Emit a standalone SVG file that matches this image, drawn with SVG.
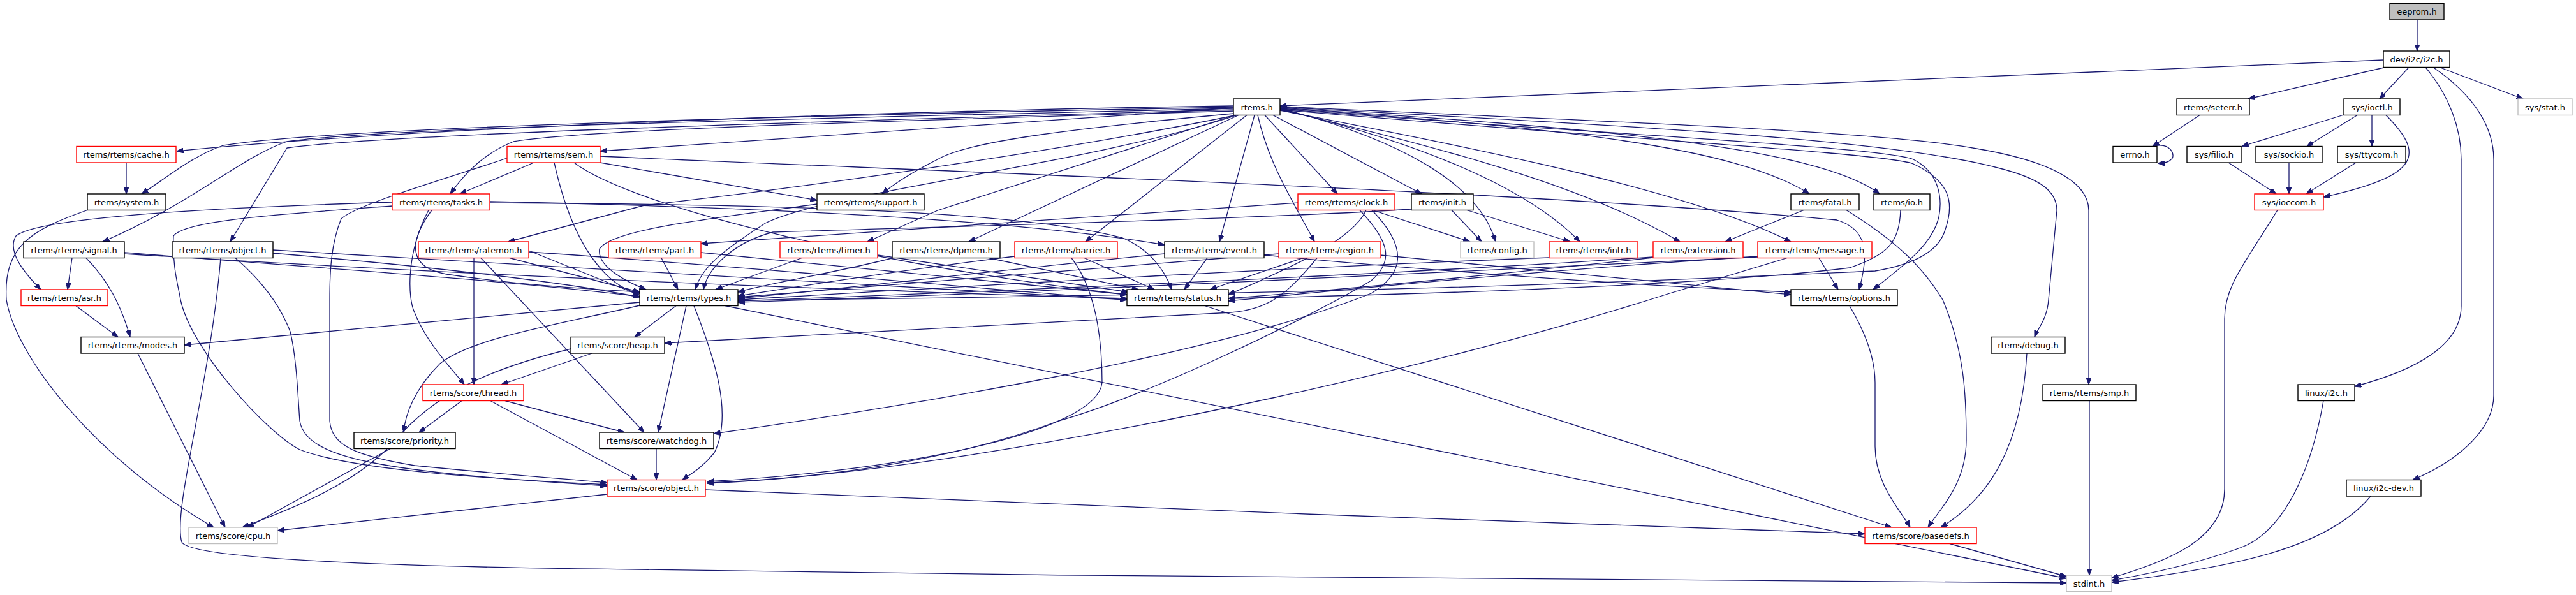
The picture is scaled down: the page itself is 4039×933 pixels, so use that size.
<svg xmlns="http://www.w3.org/2000/svg" width="4039" height="933" viewBox="0 0 4039 933">
<style>
.n rect{fill:#fff;stroke:#000;stroke-width:1.4}
.n.r rect{stroke:#ff0000}
.n.g rect{stroke:#bfbfbf}
.n.f rect{fill:#bfbfbf}
.n text{font-family:"DejaVu Sans",sans-serif;font-size:13px;text-anchor:middle;fill:#000}
#edges path{fill:none;stroke:#191970;stroke-width:1.3;marker-end:url(#ah)}
</style>
<defs>
<marker id="ah" markerUnits="userSpaceOnUse" markerWidth="11" markerHeight="8" refX="10.5" refY="4" orient="auto">
<path d="M0,0 L10.5,4 L0,8 z" fill="#191970" stroke="#191970" stroke-width="1"/>
</marker>
</defs>
<rect width="4039" height="933" fill="#fff"/>
<g id="edges">
<path d="M3790,31 L3790,80"/>
<path d="M3737,94 L2007,166"/>
<path d="M3740,105.5 L3525,155"/>
<path d="M3777,105.5 L3731,155"/>
<path d="M3825,105.5 L3956,155"/>
<path d="M3803,105.5 C3840,150 3859,200 3859,250 L3859,480 C3859,540 3790,580 3692,606"/>
<path d="M3815,105.5 C3880,150 3910,200 3910,250 L3910,620 C3910,670 3860,720 3783,752.5"/>
<path d="M3449,180.5 L3375,229.5"/>
<path d="M3375,229.5 C3405,222 3412,245 3404,250 C3400,255 3393,256 3383,256"/>
<path d="M3675,180 L3515,229.5"/>
<path d="M3696,180.5 L3617,229.5"/>
<path d="M3719,180.5 L3719,229.5"/>
<path d="M3741,180.5 C3800,240 3800,275 3643,309"/>
<path d="M3494,255 L3569,304"/>
<path d="M3589,255 L3589,304"/>
<path d="M3694,255 L3616,304"/>
<path d="M3571,329.5 C3515,420 3488,450 3488,500 L3488,767 C3488,845 3400,880 3311,906"/>
<path d="M3643,628.5 C3620,760 3570,840 3510,860 C3440,885 3370,900 3311,910"/>
<path d="M3717,778 C3650,860 3500,890 3311,913"/>
<path d="M3276,628.5 L3276,902"/>
<path d="M3057,852.5 L3240,904"/>
<path d="M1137,479.5 L3240,907"/>
<path d="M346,404.5 C330,600 270,800 285,850 C300,880 700,890 1000,893 C1800,905 2800,914 3240,914"/>
<path d="M1934,166 C1500,172 700,195 277,237"/>
<path d="M1934,168 C1300,180 520,200 350,228 C300,245 260,280 222,304"/>
<path d="M1934,170 C1300,185 600,200 450,222 C380,245 300,320 161,379"/>
<path d="M1934,172 C1300,190 600,210 450,232 L361,379"/>
<path d="M1934,169 L941,237"/>
<path d="M1934,174 C1300,192 900,205 805,222 C760,240 730,270 706,304"/>
<path d="M1938,180.5 C1700,230 1300,290 1010,322 L797,379"/>
<path d="M1940,180.5 C1700,260 1300,300 1200,350 C1130,395 1100,420 1090,454"/>
<path d="M1934,178 C1700,200 1520,220 1470,250 C1430,270 1400,290 1383,304"/>
<path d="M2035,318 L1099,382"/>
<path d="M1936,180.5 C1750,240 1560,300 1470,330 L1360,379"/>
<path d="M1942,180.5 L1519,379"/>
<path d="M1955,180.5 L1702,379"/>
<path d="M1967,180.5 L1912,379"/>
<path d="M1972,180.5 C1990,260 2030,320 2061,379"/>
<path d="M1983,180.5 L2097,304"/>
<path d="M1996,180.5 L2229,304"/>
<path d="M2007,170 C2200,220 2320,290 2345,379"/>
<path d="M2007,171 C2250,230 2400,300 2477,379"/>
<path d="M2007,172 C2300,240 2500,300 2634,379"/>
<path d="M2007,173 C2350,240 2650,300 2808,379"/>
<path d="M2007,170 C2450,200 2720,230 2837,304"/>
<path d="M2007,169 C2500,200 2850,230 2947,304"/>
<path d="M2007,167 C2500,190 2950,205 3099,233 C3200,250 3275,280 3275,330 L3275,603"/>
<path d="M2007,168 C2500,195 2950,215 3132,263 C3200,280 3225,300 3225,330 L3212,470 C3210,500 3195,515 3190,528.5"/>
<path d="M2007,171 C2500,210 2950,230 3000,250 C3040,270 3046,310 3040,340 C3030,385 2980,420 2937,454"/>
<path d="M2007,172 C2500,215 2960,240 3000,257 C3060,285 3064,320 3050,360 C3040,395 3000,415 2940,425 C2600,440 2200,460 1157,471"/>
<path d="M941,245 C1500,270 2400,300 2880,345 C2930,360 2930,400 2915,454"/>
<path d="M941,255 L1281,314"/>
<path d="M837,255 L721,304"/>
<path d="M795,248 C700,280 560,320 535,343 C520,380 517,420 517,470 L517,660 C520,700 560,715 650,730 C800,745 900,752 952,757"/>
<path d="M869,255 C890,350 920,400 950,430 C970,450 990,458 1003,460"/>
<path d="M900,255 C1000,330 1400,420 1767,462"/>
<path d="M615,317 C350,325 60,340 25,370 C10,395 40,430 64,454"/>
<path d="M615,323 C450,335 290,345 272,370 C270,420 280,450 283,470 C300,550 420,680 470,705 C560,740 800,752 952,760"/>
<path d="M672,329.5 C635,400 640,470 650,490 C670,540 710,580 728,603"/>
<path d="M677,329.5 C640,380 640,420 700,430 C800,445 900,452 1005,458"/>
<path d="M768,318 C1200,320 1600,330 1760,373 C1800,390 1825,420 1837,454"/>
<path d="M768,316 C1200,325 1600,345 1826,384"/>
<path d="M829,393 L1003,463"/>
<path d="M829,395 C1200,420 1500,450 1767,470"/>
<path d="M743,404.5 L743,603"/>
<path d="M754,404.5 L1010,678"/>
<path d="M799,404.5 L1003,458"/>
<path d="M195,396 C500,420 800,440 1003,465"/>
<path d="M195,398 C700,430 1300,455 1767,468"/>
<path d="M113,404.5 L106,454"/>
<path d="M135,404.5 C170,440 190,480 204,528"/>
<path d="M428,397 C700,420 900,445 1003,466"/>
<path d="M428,392 C900,420 1400,450 1767,470"/>
<path d="M369,404.5 C410,440 440,480 455,520 C465,560 467,620 470,660 C480,720 600,740 952,762"/>
<path d="M198,255 L198,304"/>
<path d="M137,329.5 C50,360 5,385 10,470 C25,560 150,720 335,827"/>
<path d="M119,479.5 L185,528.5"/>
<path d="M216,554 L353,827"/>
<path d="M1003,474 L289,541"/>
<path d="M1060,479.5 L995,528.5"/>
<path d="M1076,479.5 L1032,678"/>
<path d="M1088,479.5 C1120,560 1150,650 1120,710 C1100,735 1080,745 1070,752.5"/>
<path d="M1003,479 C870,510 740,530 690,570 C650,610 635,650 633,678"/>
<path d="M928,554 L786,603"/>
<path d="M895,547 C760,580 680,620 620,690 C560,760 450,800 380,827"/>
<path d="M724,628.5 L657,678"/>
<path d="M792,628.5 L979,678"/>
<path d="M769,628.5 L999,752.5"/>
<path d="M612,703.5 L388,827"/>
<path d="M1029,703.5 L1029,752.5"/>
<path d="M952,775 L435,832"/>
<path d="M1106,768 C1600,790 2400,820 2924,837"/>
<path d="M1889,479.5 L2966,827"/>
<path d="M2900,479.5 C2930,530 2940,570 2940,600 L2940,700 C2940,760 2980,800 2995,827"/>
<path d="M2895,329.5 C2960,370 3010,410 3046,470 C3080,550 3083,620 3083,690 C3083,760 3040,800 3023,827"/>
<path d="M3178,554 C3170,700 3120,780 3043,827"/>
<path d="M2828,329.5 L2705,379"/>
<path d="M2980,329.5 C2978,380 2960,400 2900,420 C2700,445 2300,460 1926,468"/>
<path d="M2276,329.5 L2323,379"/>
<path d="M2300,329.5 L2462,379"/>
<path d="M2213,328 C2000,342 1500,355 1212,364 C1150,380 1110,420 1103,454"/>
<path d="M2152,329.5 L2305,379"/>
<path d="M2132,329.5 C2180,380 2185,410 2150,440 C2050,500 1800,620 1660,660 C1500,720 1300,750 1109,757"/>
<path d="M2151,329.5 C2210,390 2200,430 2150,460 C1900,560 1400,640 1119,680"/>
<path d="M2142,329.5 C2120,380 2000,430 1926,462"/>
<path d="M2043,404.5 L1897,454"/>
<path d="M2065,404.5 C2020,460 1990,485 1930,490 C1600,510 1300,525 1042,538"/>
<path d="M2164,400 L2808,462"/>
<path d="M2005,398 C1700,420 1400,445 1157,466"/>
<path d="M1893,404.5 L1857,454"/>
<path d="M1826,398 C1600,420 1350,450 1157,468"/>
<path d="M1982,400 C2200,420 2500,445 2808,458"/>
<path d="M1591,402 C1400,425 1250,450 1157,464"/>
<path d="M1700,404.5 L1810,454"/>
<path d="M1680,404.5 C1715,450 1728,520 1728,600 C1720,680 1400,740 1109,755"/>
<path d="M1400,404.5 C1300,430 1200,445 1157,458"/>
<path d="M1550,404.5 L1785,454"/>
<path d="M1257,404.5 L1122,454"/>
<path d="M1376,400 L1770,458"/>
<path d="M1037,404.5 L1063,454"/>
<path d="M1099,396 L1767,462"/>
<path d="M1281,320 C1100,345 960,360 940,390 C935,420 990,445 1013,454"/>
<path d="M2429,404 C2000,420 1500,450 1157,470"/>
<path d="M2592,403 C2200,430 1600,455 1157,472"/>
<path d="M2592,404 C2400,425 2100,455 1926,468"/>
<path d="M2852,404.5 L2882,454"/>
<path d="M2756,402 C2400,425 2100,455 1926,472"/>
<path d="M2756,403 C2200,430 1600,460 1157,474"/>
<path d="M2802,404.5 L2618,460 C2400,530 2150,590 2000,623 C1600,710 1300,750 1109,758"/>
</g>
<g id="eeprom" class="n f"><rect x="3747" y="5.5" width="85" height="25.5"/><text x="3789.5" y="23">eeprom.h</text></g>
<g id="i2c" class="n"><rect x="3737" y="80" width="104" height="25.5"/><text x="3789" y="97.5">dev/i2c/i2c.h</text></g>
<g id="rtems" class="n"><rect x="1934" y="155" width="73" height="25.5"/><text x="1970.5" y="172.5">rtems.h</text></g>
<g id="seterr" class="n"><rect x="3413" y="155" width="114" height="25.5"/><text x="3470" y="172.5">rtems/seterr.h</text></g>
<g id="ioctl" class="n"><rect x="3675" y="155" width="88" height="25.5"/><text x="3719" y="172.5">sys/ioctl.h</text></g>
<g id="stat" class="n g"><rect x="3948" y="155" width="85" height="25.5"/><text x="3990.5" y="172.5">sys/stat.h</text></g>
<g id="cache" class="n r"><rect x="120" y="229.5" width="156" height="25.5"/><text x="198" y="247">rtems/rtems/cache.h</text></g>
<g id="sem" class="n r"><rect x="795" y="229.5" width="146" height="25.5"/><text x="868" y="247">rtems/rtems/sem.h</text></g>
<g id="errno" class="n"><rect x="3313" y="229.5" width="69" height="25.5"/><text x="3347.5" y="247">errno.h</text></g>
<g id="filio" class="n"><rect x="3429" y="229.5" width="85" height="25.5"/><text x="3471.5" y="247">sys/filio.h</text></g>
<g id="sockio" class="n"><rect x="3537" y="229.5" width="104" height="25.5"/><text x="3589" y="247">sys/sockio.h</text></g>
<g id="ttycom" class="n"><rect x="3665" y="229.5" width="107" height="25.5"/><text x="3718.5" y="247">sys/ttycom.h</text></g>
<g id="system" class="n"><rect x="137" y="304" width="123" height="25.5"/><text x="198.5" y="321.5">rtems/system.h</text></g>
<g id="tasks" class="n r"><rect x="615" y="304" width="153" height="25.5"/><text x="691.5" y="321.5">rtems/rtems/tasks.h</text></g>
<g id="support" class="n"><rect x="1281" y="304" width="168" height="25.5"/><text x="1365" y="321.5">rtems/rtems/support.h</text></g>
<g id="clock" class="n r"><rect x="2035" y="304" width="152" height="25.5"/><text x="2111" y="321.5">rtems/rtems/clock.h</text></g>
<g id="init" class="n"><rect x="2213" y="304" width="97" height="25.5"/><text x="2261.5" y="321.5">rtems/init.h</text></g>
<g id="fatal" class="n"><rect x="2808" y="304" width="107" height="25.5"/><text x="2861.5" y="321.5">rtems/fatal.h</text></g>
<g id="io" class="n"><rect x="2938" y="304" width="88" height="25.5"/><text x="2982" y="321.5">rtems/io.h</text></g>
<g id="ioccom" class="n r"><rect x="3535" y="304" width="108" height="25.5"/><text x="3589" y="321.5">sys/ioccom.h</text></g>
<g id="signal" class="n"><rect x="37" y="379" width="158" height="25.5"/><text x="116" y="396.5">rtems/rtems/signal.h</text></g>
<g id="object" class="n"><rect x="270" y="379" width="158" height="25.5"/><text x="349" y="396.5">rtems/rtems/object.h</text></g>
<g id="ratemon" class="n r"><rect x="656" y="379" width="173" height="25.5"/><text x="742.5" y="396.5">rtems/rtems/ratemon.h</text></g>
<g id="part" class="n r"><rect x="954" y="379" width="145" height="25.5"/><text x="1026.5" y="396.5">rtems/rtems/part.h</text></g>
<g id="timer" class="n r"><rect x="1223" y="379" width="153" height="25.5"/><text x="1299.5" y="396.5">rtems/rtems/timer.h</text></g>
<g id="dpmem" class="n"><rect x="1399" y="379" width="169" height="25.5"/><text x="1483.5" y="396.5">rtems/rtems/dpmem.h</text></g>
<g id="barrier" class="n r"><rect x="1591" y="379" width="161" height="25.5"/><text x="1671.5" y="396.5">rtems/rtems/barrier.h</text></g>
<g id="event" class="n"><rect x="1826" y="379" width="156" height="25.5"/><text x="1904" y="396.5">rtems/rtems/event.h</text></g>
<g id="region" class="n r"><rect x="2005" y="379" width="160" height="25.5"/><text x="2085" y="396.5">rtems/rtems/region.h</text></g>
<g id="config" class="n g"><rect x="2290" y="379" width="115" height="25.5"/><text x="2347.5" y="396.5">rtems/config.h</text></g>
<g id="intr" class="n r"><rect x="2429" y="379" width="139" height="25.5"/><text x="2498.5" y="396.5">rtems/rtems/intr.h</text></g>
<g id="extension" class="n r"><rect x="2592" y="379" width="141" height="25.5"/><text x="2662.5" y="396.5">rtems/extension.h</text></g>
<g id="message" class="n r"><rect x="2756" y="379" width="179" height="25.5"/><text x="2845.5" y="396.5">rtems/rtems/message.h</text></g>
<g id="asr" class="n r"><rect x="33" y="454" width="136" height="25.5"/><text x="101" y="471.5">rtems/rtems/asr.h</text></g>
<g id="types" class="n"><rect x="1003" y="454" width="154" height="25.5"/><text x="1080" y="471.5">rtems/rtems/types.h</text></g>
<g id="status" class="n"><rect x="1767" y="454" width="159" height="25.5"/><text x="1846.5" y="471.5">rtems/rtems/status.h</text></g>
<g id="options" class="n"><rect x="2808" y="454" width="167" height="25.5"/><text x="2891.5" y="471.5">rtems/rtems/options.h</text></g>
<g id="modes" class="n"><rect x="127" y="528.5" width="162" height="25.5"/><text x="208" y="546">rtems/rtems/modes.h</text></g>
<g id="heap" class="n"><rect x="895" y="528.5" width="147" height="25.5"/><text x="968.5" y="546">rtems/score/heap.h</text></g>
<g id="debug" class="n"><rect x="3122" y="528.5" width="116" height="25.5"/><text x="3180" y="546">rtems/debug.h</text></g>
<g id="thread" class="n r"><rect x="663" y="603" width="158" height="25.5"/><text x="742" y="620.5">rtems/score/thread.h</text></g>
<g id="smp" class="n"><rect x="3203" y="603" width="146" height="25.5"/><text x="3276" y="620.5">rtems/rtems/smp.h</text></g>
<g id="lini2c" class="n"><rect x="3603" y="603" width="89" height="25.5"/><text x="3647.5" y="620.5">linux/i2c.h</text></g>
<g id="priority" class="n"><rect x="555" y="678" width="159" height="25.5"/><text x="634.5" y="695.5">rtems/score/priority.h</text></g>
<g id="watchdog" class="n"><rect x="940" y="678" width="179" height="25.5"/><text x="1029.5" y="695.5">rtems/score/watchdog.h</text></g>
<g id="sobject" class="n r"><rect x="952" y="752.5" width="154" height="25.5"/><text x="1029" y="770">rtems/score/object.h</text></g>
<g id="i2cdev" class="n"><rect x="3679" y="752.5" width="117" height="25.5"/><text x="3737.5" y="770">linux/i2c-dev.h</text></g>
<g id="cpu" class="n g"><rect x="296" y="827" width="139" height="25.5"/><text x="365.5" y="844.5">rtems/score/cpu.h</text></g>
<g id="basedefs" class="n r"><rect x="2924" y="827" width="175" height="25.5"/><text x="3011.5" y="844.5">rtems/score/basedefs.h</text></g>
<g id="stdint" class="n g"><rect x="3240" y="902" width="71" height="25.5"/><text x="3275.5" y="919.5">stdint.h</text></g>
</svg>
